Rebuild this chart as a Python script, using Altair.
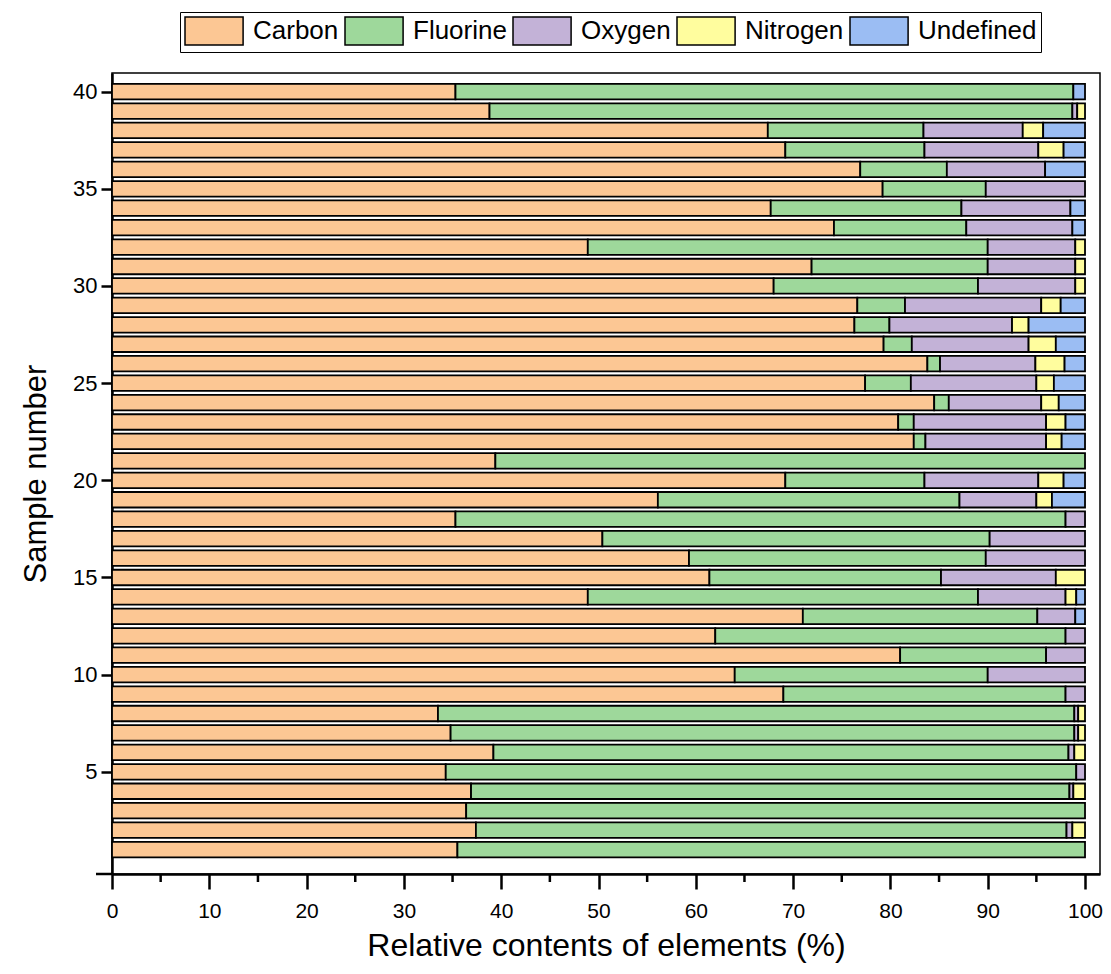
import altair as alt
import pandas as pd

samples = list(range(1, 41))
elements = ["Carbon", "Fluorine", "Oxygen", "Nitrogen", "Undefined"]
colors = ["#FCC794", "#9ED89B", "#C3B2D7", "#FFFD9E", "#9BBDF3"]

carbon = [35.5, 37.4, 36.4, 36.9, 34.3, 39.2, 34.8, 33.5, 69.0, 64.0,
          81.0, 62.0, 71.0, 48.9, 61.4, 59.3, 50.4, 35.3, 56.1, 69.2,
          39.4, 82.4, 80.8, 84.5, 77.4, 83.8, 79.3, 76.3, 76.6, 68.0,
          71.9, 48.9, 74.2, 67.7, 79.2, 76.9, 69.2, 67.4, 38.8, 35.3]
fluorine = [64.5, 60.7, 63.6, 61.5, 64.8, 59.1, 64.1, 65.4, 29.0, 26.0,
            15.0, 36.0, 24.1, 40.1, 23.8, 30.5, 39.8, 62.7, 31.0, 14.3,
            60.6, 1.2, 1.6, 1.5, 4.7, 1.3, 2.9, 3.6, 4.9, 21.0,
            18.1, 41.1, 13.6, 19.6, 10.6, 8.9, 14.3, 16.0, 59.9, 63.5]
oxygen = [0.0, 0.6, 0.0, 0.4, 0.9, 0.6, 0.4, 0.4, 2.0, 10.0,
          4.0, 2.0, 3.9, 9.0, 11.8, 10.2, 9.8, 2.0, 7.9, 11.7,
          0.0, 12.4, 13.6, 9.5, 12.9, 9.8, 12.0, 12.6, 14.0, 10.0,
          9.0, 9.0, 10.9, 11.2, 10.2, 10.1, 11.7, 10.2, 0.5, 0.0]
nitrogen = [0.0, 1.3, 0.0, 1.2, 0.0, 1.1, 0.7, 0.7, 0.0, 0.0,
            0.0, 0.0, 0.0, 1.1, 3.0, 0.0, 0.0, 0.0, 1.6, 2.6,
            0.0, 1.6, 2.0, 1.8, 1.8, 3.0, 2.8, 1.7, 2.0, 1.0,
            1.0, 1.0, 0.0, 0.0, 0.0, 0.0, 2.6, 2.1, 0.8, 0.0]
undefined = [0.0, 0.0, 0.0, 0.0, 0.0, 0.0, 0.0, 0.0, 0.0, 0.0,
             0.0, 0.0, 1.0, 0.9, 0.0, 0.0, 0.0, 0.0, 3.4, 2.2,
             0.0, 2.4, 2.0, 2.7, 3.2, 2.1, 3.0, 5.8, 2.5, 0.0,
             0.0, 0.0, 1.3, 1.5, 0.0, 4.1, 2.2, 4.3, 0.0, 1.2]

x_major = list(range(0, 101, 10))
x_minor = list(range(5, 100, 10))
y_ticks = list(range(5, 41, 5))

series = [carbon, fluorine, oxygen, nitrogen, undefined]
rows = []
for i, s in enumerate(samples):
    for k, name in enumerate(elements):
        rows.append({"Sample": s, "Element": name, "Order": k, "Value": series[k][i]})
df = pd.DataFrame(rows)

W, H = 988, 801
FONT = "Liberation Sans"
XDOM = [0, 101.54]
YDOM = [0, 40.7]
XTITLE = "Relative contents of elements (%)"

bars = alt.Chart(df).transform_filter("datum.Value > 0").mark_bar(
    orient="horizontal", size=15.5, stroke="black", strokeWidth=1.8
).encode(
    x=alt.X("Value:Q", stack="zero",
            scale=alt.Scale(domain=XDOM, nice=False, zero=False),
            axis=alt.Axis(values=x_major, title=XTITLE, titleFontSize=32,
                          labelFontSize=21, labelFlush=False,
                          tickSize=15, labelPadding=11, titlePadding=9)),
    y=alt.Y("Sample:Q", scale=alt.Scale(domain=YDOM, nice=False),
            axis=alt.Axis(values=y_ticks, title="Sample number", titleFontSize=31,
                          tickSize=11, labelPadding=4, titlePadding=20)),
    color=alt.Color("Element:N", scale=alt.Scale(domain=elements, range=colors),
                    legend=alt.Legend(
                        orient="none", legendX=68, legendY=-61, direction="horizontal",
                        title=None, strokeColor="black", padding=4,
                        symbolType="M-1,-1L3.15,-1L3.15,1L-1,1Z",
                        symbolSize=784, symbolStrokeColor="black", symbolStrokeWidth=1.5,
                        symbolOpacity=1, labelFontSize=26, labelFont=FONT,
                        labelColor="black", labelOffset=39, columnPadding=3)),
    order=alt.Order("Order:Q", sort="ascending"),
)

minor = alt.Chart(pd.DataFrame({"Value": x_minor})).mark_rule(
    color="black", strokeWidth=2.5
).encode(
    x=alt.X("Value:Q", title=XTITLE),
    y=alt.value(H), y2=alt.value(H + 8),
)

ext = alt.Chart(pd.DataFrame({"a": [0]})).mark_rule(
    color="black", strokeWidth=2.5
).encode(x=alt.value(-16), x2=alt.value(0), y=alt.value(H))

chart = alt.layer(bars, minor, ext).properties(
    width=W, height=H,
    autosize=alt.AutoSizeParams(type="none"),
    padding={"left": 104, "top": 65, "right": 3, "bottom": 90},
).configure_view(
    stroke="black", strokeWidth=1.5
).configure_axis(
    grid=False, domainColor="black", domainWidth=2.5, tickColor="black", tickWidth=2.5,
    labelFont=FONT, labelFontSize=22, labelColor="black",
    titleFont=FONT, titleFontSize=30, titleFontWeight="normal", titleColor="black",
)

chart.save("out.html", embed_options={"renderer": "svg", "actions": False})
